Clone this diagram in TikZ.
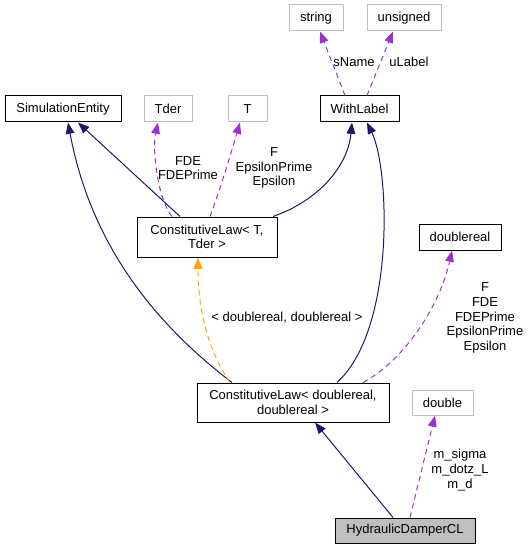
\documentclass[tikz,border=0pt]{standalone}
\usepackage{fontspec}
\setmainfont{Liberation Sans}
\usetikzlibrary{arrows.meta}
\definecolor{navyedge}{HTML}{191970}
\definecolor{purpleedge}{HTML}{9A32CD}
\definecolor{orangeedge}{HTML}{FFA500}
\definecolor{greyline}{HTML}{BFBFBF}
\definecolor{greyfill}{HTML}{BFBFBF}
\begin{document}
\begin{tikzpicture}[x=0.75pt,y=-0.75pt,
  every node/.style={font=\fontsize{9.75}{11}\selectfont, inner sep=0pt, align=center},
  cls/.style={draw=black, line width=0.75pt, fill=white, minimum height={26*0.75pt}},
  ext/.style={draw=greyline, line width=0.75pt, fill=white, minimum height={26*0.75pt}},
  inh/.style={draw=navyedge, line width=0.75pt, -{Triangle[length=8.5pt,width=6.5pt]}},
  use/.style={draw=purpleedge, line width=0.75pt, dash pattern=on 4pt off 3pt, -{Triangle[length=8.5pt,width=6.5pt]}},
  tmpl/.style={draw=orangeedge, line width=0.75pt, dash pattern=on 4pt off 3pt, -{Triangle[length=8.5pt,width=6.5pt]}},
  lbl/.style={fill=none}]
\useasboundingbox (0,0) rectangle (529,549);
% nodes
\node[ext, minimum width={54*0.75pt}] (str) at (316,18) {string};
\node[ext, minimum width={74*0.75pt}] (uns) at (404,18) {unsigned};
\node[cls, minimum width={116*0.75pt}] (se) at (63,109) {SimulationEntity};
\node[ext, minimum width={48*0.75pt}] (tder) at (168,109) {Tder};
\node[ext, minimum width={39*0.75pt}] (t) at (247.5,109) {T};
\node[cls, minimum width={79*0.75pt}] (wl) at (359.5,109) {WithLabel};
\node[cls, minimum width={140*0.75pt}, minimum height={40*0.75pt}] (clt) at (207,237) {ConstitutiveLaw\textless{} T,\\Tder \textgreater{}};
\node[cls, minimum width={82*0.75pt}] (dr) at (460,237) {doublereal};
\node[cls, minimum width={192*0.75pt}, minimum height={39*0.75pt}] (cld) at (293,402.5) {ConstitutiveLaw\textless{} doublereal,\\doublereal \textgreater{}};
\node[ext, minimum width={61*0.75pt}, minimum height={25*0.75pt}] (dbl) at (442.5,402.5) {double};
\node[cls, fill=greyfill, minimum width={140*0.75pt}, minimum height={25*0.75pt}] (hd) at (405,530.5) {HydraulicDamperCL};
% edges
\draw[use] (wl.north -| 345,0) -- (str.south -| 320,0);
\draw[use] (wl.north -| 367,0) -- (uns.south -| 393,0);
\draw[inh] (clt.north -| 180,0) -- (se.south -| 78,0);
\draw[use] (clt.north -| 172,0) .. controls (158,200) and (152,150) .. (tder.south -| 158,0);
\draw[use] (clt.north -| 210,0) .. controls (220,190) and (232,150) .. (t.south -| 240,0);
\draw[inh] (clt.north -| 273,0) .. controls (320,200) and (348,165) .. (wl.south -| 352,0);
\draw[inh] (cld.north -| 337,0) .. controls (395,330) and (390,170) .. (wl.south -| 367,0);
\draw[inh] (cld.north -| 232,0) .. controls (150,320) and (90,240) .. (se.south -| 68,0);
\draw[tmpl] (cld.north -| 230,0) .. controls (208,350) and (198,310) .. (clt.south -| 198,0);
\draw[use] (cld.north -| 363,0) .. controls (405,360) and (440,305) .. (dr.south -| 452,0);
\draw[inh] (hd.north -| 393,0) -- (cld.south -| 315,0);
\draw[use] (hd.north -| 410,0) -- (dbl.south -| 435,0);
% labels
\node[lbl] (l1) at (354,62) {sName};
\node[lbl] (l2) at (409,62) {uLabel};
\node[lbl] (l3) at (188,168) {FDE\\FDEPrime};
\node[lbl] (l4) at (274,168) {F\\EpsilonPrime\\Epsilon};
\node[lbl] (l5) at (287,318) {\textless{} doublereal, doublereal \textgreater{}};
\node[lbl] (l6) at (485,318) {F\\FDE\\FDEPrime\\EpsilonPrime\\Epsilon};
\node[lbl] (l7) at (460,470) {m\_sigma\\m\_dotz\_L\\m\_d};
\end{tikzpicture}
\end{document}
